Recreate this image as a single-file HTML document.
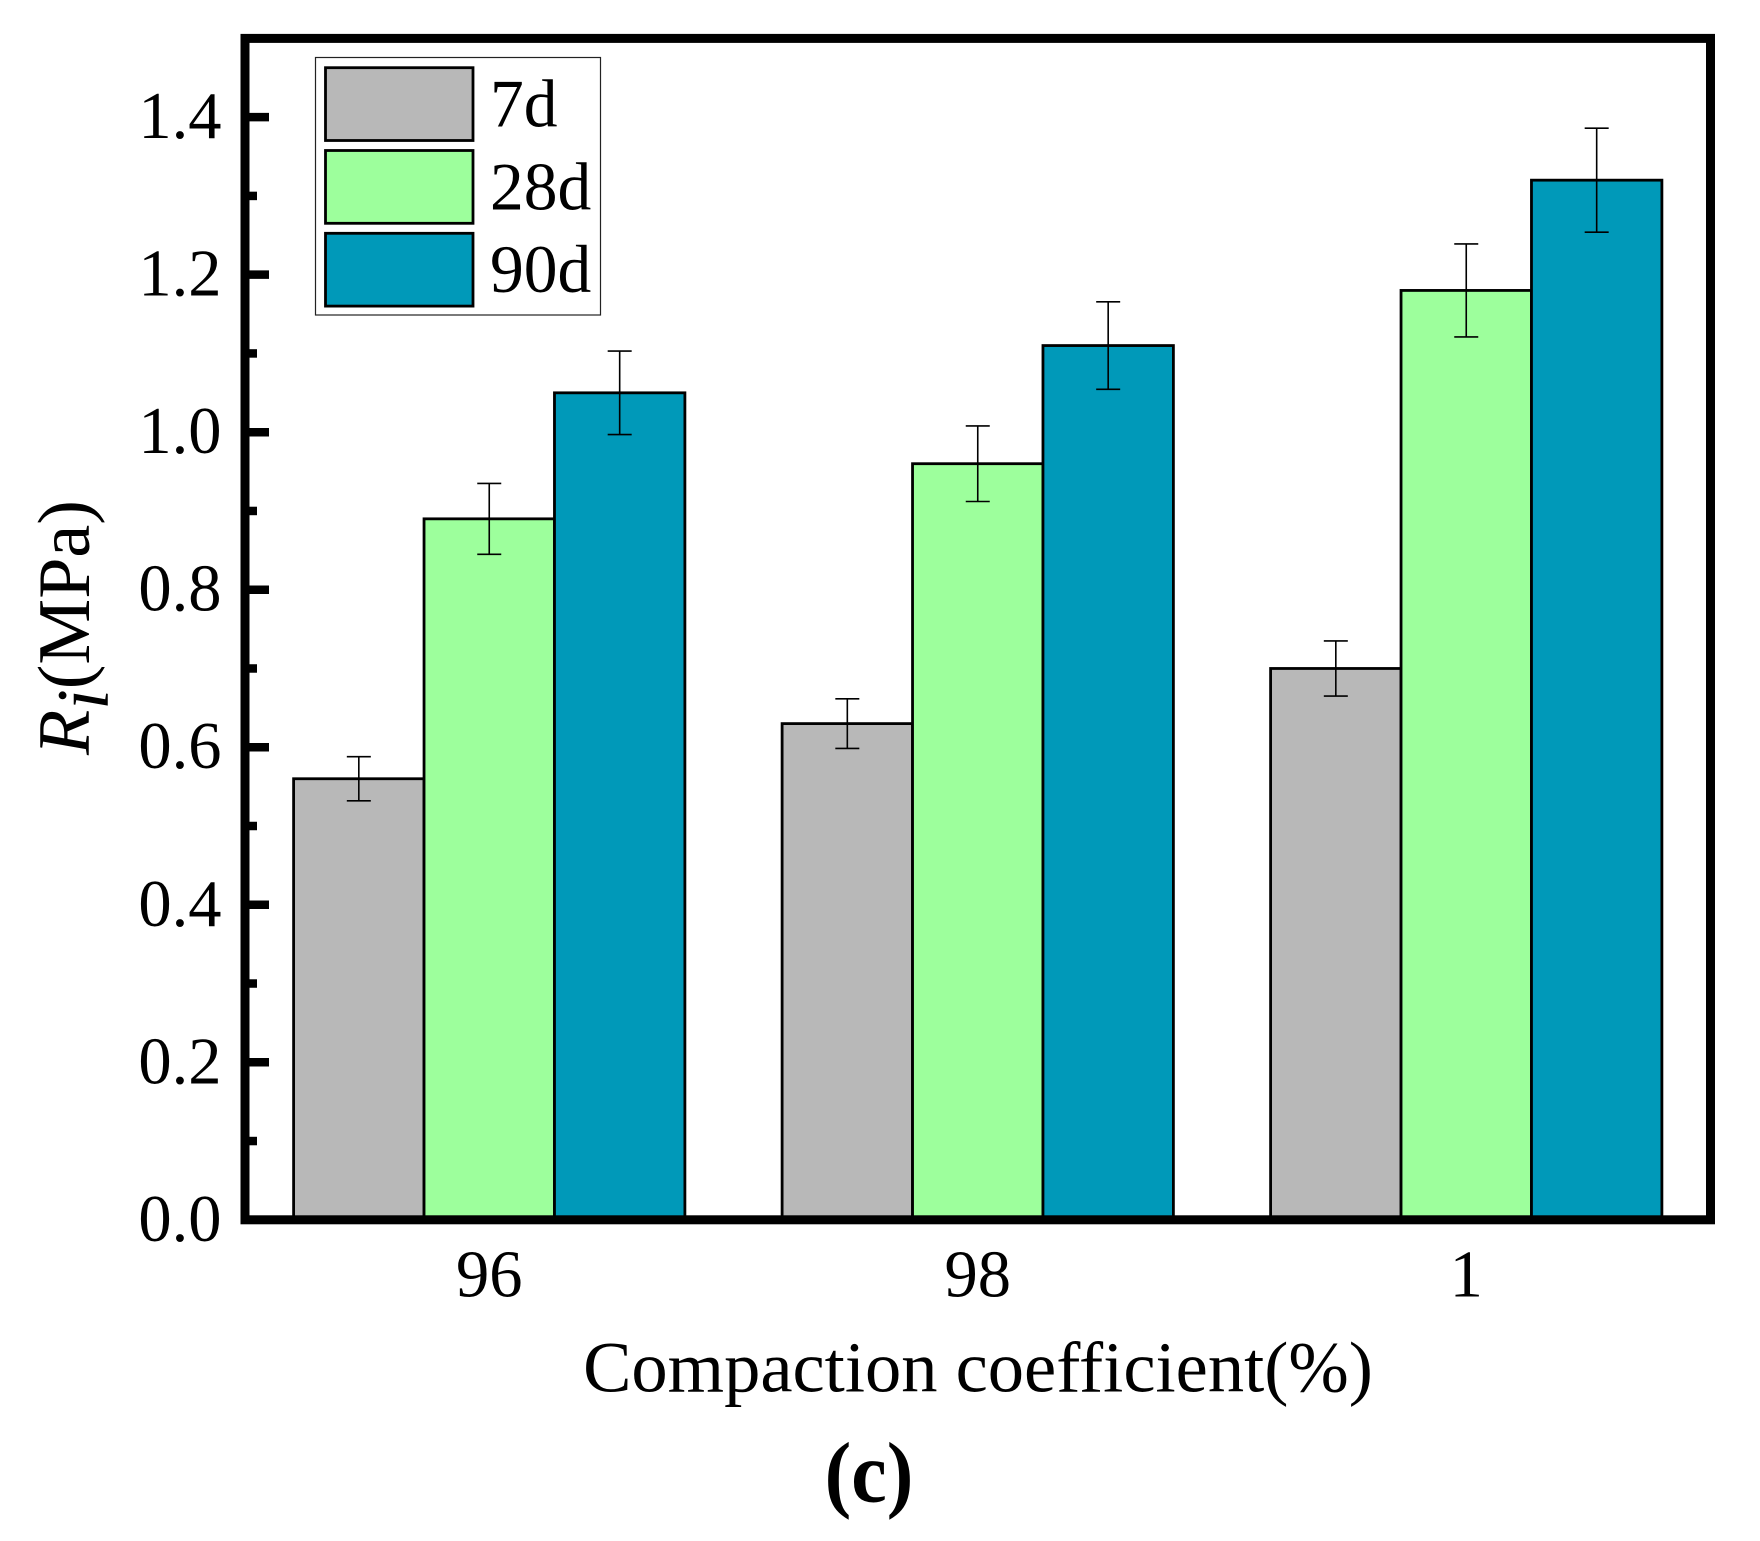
<!DOCTYPE html>
<html lang="en">
<head>
<meta charset="utf-8">
<title>Compaction coefficient bar chart</title>
<style>
html,body{margin:0;padding:0;background:#fff;}
body{width:1760px;height:1541px;overflow:hidden;}
svg{display:block;}
text{font-family:"Liberation Serif","Times New Roman",serif;fill:#000;}
</style>
</head>
<body>
<svg id="chart" xmlns="http://www.w3.org/2000/svg" width="1760" height="1541" viewBox="0 0 1760 1541"></svg>
<script>
const categories = ['96', '98', '1'];
const seriesNames = ['7d', '28d', '90d'];
const values7d = [0.56, 0.63, 0.70];
const values28d = [0.89, 0.96, 1.18];
const values90d = [1.05, 1.11, 1.32];
const errors7d = [0.028, 0.0315, 0.035];
const errors28d = [0.045, 0.048, 0.059];
const errors90d = [0.053, 0.0555, 0.066];
const yTickLabels = ['0.0', '0.2', '0.4', '0.6', '0.8', '1.0', '1.2', '1.4'];
const yMinorTicks = [0.1, 0.3, 0.5, 0.7, 0.9, 1.1, 1.3];

const NS = 'http://www.w3.org/2000/svg';
const svg = document.getElementById('chart');
const plot = { left: 245, right: 1710.5, top: 38.4, bottom: 1219.8 };
const yDomain = [0, 1.5];
const xDomain = [0.5, 3.5];
const barWidthUnits = 0.267;
const seriesValues = [values7d, values28d, values90d];
const seriesErrors = [errors7d, errors28d, errors90d];
const seriesColors = ['#b8b8b8', '#9dff9c', '#0099b9'];

function yScale(v) {
  return plot.bottom - (v - yDomain[0]) / (yDomain[1] - yDomain[0]) * (plot.bottom - plot.top);
}
function xScale(v) {
  return plot.left + (v - xDomain[0]) / (xDomain[1] - xDomain[0]) * (plot.right - plot.left);
}
function mk(tag, attrs, parent) {
  const el = document.createElementNS(NS, tag);
  for (const k in attrs) el.setAttribute(k, attrs[k]);
  (parent || svg).appendChild(el);
  return el;
}

const barWidth = xScale(xDomain[0] + barWidthUnits) - xScale(xDomain[0]);

/* bars */
seriesValues.forEach(function (vals, s) {
  vals.forEach(function (v, c) {
    const cx = xScale(c + 1) + (s - 1) * barWidth;
    const bar = mk('rect', {
      x: cx - barWidth / 2,
      y: yScale(v),
      width: barWidth,
      height: yScale(0) - yScale(v),
      fill: seriesColors[s],
      stroke: '#000',
      'stroke-width': 2.8
    });
    
    
  });
});

/* error bars */
seriesValues.forEach(function (vals, s) {
  vals.forEach(function (v, c) {
    const cx = xScale(c + 1) + (s - 1) * barWidth;
    const hi = yScale(v + seriesErrors[s][c]);
    const lo = yScale(v - seriesErrors[s][c]);
    const d = 'M' + cx + ' ' + hi + 'V' + lo + 'M' + (cx - 12) + ' ' + hi + 'H' + (cx + 12) + 'M' + (cx - 12) + ' ' + lo + 'H' + (cx + 12);
    const err = mk('path', { d: d, fill: 'none', stroke: '#000', 'stroke-width': 1.6 });
    
    
  });
});

/* y ticks */
yTickLabels.forEach(function (label) {
  const v = parseFloat(label);
  const tick = mk('line', { x1: 245, x2: 269, y1: yScale(v), y2: yScale(v), stroke: '#000', 'stroke-width': 8.5 });
  
  
  const t = mk('text', { x: 221.5, y: yScale(v) + 21, 'text-anchor': 'end', 'font-size': 66.5 });
  t.textContent = label;
  
  
});
yMinorTicks.forEach(function (v) {
  const tick = mk('line', { x1: 245, x2: 257, y1: yScale(v), y2: yScale(v), stroke: '#000', 'stroke-width': 8.5 });
  
  
});

/* x tick labels */
categories.forEach(function (label, c) {
  const t = mk('text', { x: xScale(c + 1), y: 1296.5, 'text-anchor': 'middle', 'font-size': 66.5 });
  t.textContent = label;
  
  
});

/* plot frame */
const frame = mk('rect', {
  x: plot.left, y: plot.top,
  width: plot.right - plot.left, height: plot.bottom - plot.top,
  fill: 'none', stroke: '#000', 'stroke-width': 9
});



/* legend */
const legend = mk('g', {});


const legendBox = mk('rect', { x: 315.5, y: 57.5, width: 285, height: 257.5, fill: '#fff', stroke: '#222', 'stroke-width': 1.2 }, legend);


seriesNames.forEach(function (name, s) {
  const top = 67.7 + s * 82.8;
  const sw = mk('rect', { x: 325.5, y: top, width: 147.5, height: 72.8, fill: seriesColors[s], stroke: '#000', 'stroke-width': 2.8 }, legend);
  
  
  const t = mk('text', { x: 490, y: 126.7 + s * 82.7, 'font-size': 67.5 }, legend);
  t.textContent = name;
  
  
});

/* x axis title */
const xTitle = mk('text', { x: 978, y: 1391.5, 'text-anchor': 'middle', 'font-size': 72.5 });
xTitle.textContent = 'Compaction coefficient(%)';



/* y axis title */
const yTitle = mk('text', { transform: 'translate(89,755) rotate(-90)', 'font-size': 74 });


const ySym = mk('tspan', { 'font-style': 'italic' }, yTitle);
ySym.textContent = 'R';
const ySub = mk('tspan', { 'font-style': 'italic', dy: 19 }, yTitle);
ySub.textContent = 'i';
const yUnit = mk('tspan', { dy: -19 }, yTitle);
yUnit.textContent = '(MPa)';

/* panel label */
const panel = mk('text', { transform: 'translate(869,1501.5) scale(0.93,1)', x: 0, y: 0, 'text-anchor': 'middle', 'font-size': 86, 'font-weight': 'bold' });
panel.textContent = '(c)';


</script>
</body>
</html>
